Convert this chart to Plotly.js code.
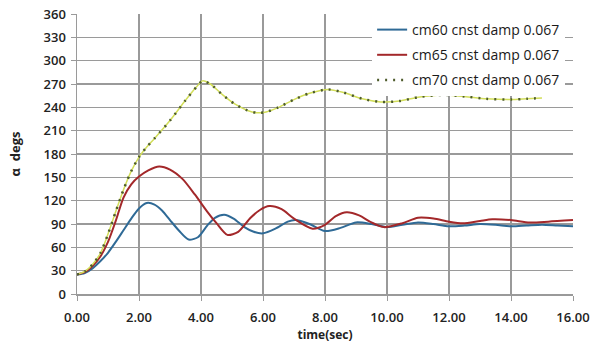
<!DOCTYPE html>
<html>
<head>
<meta charset="utf-8">
<script src="https://cdn.plot.ly/plotly-3.0.1.min.js"></script>
<style>html,body{margin:0;padding:0;background:#fff;}#chart{width:604px;height:347px;}</style>
</head>
<body>
<div id="chart"></div>
<script>
var names = ["cm60 cnst damp 0.067", "cm65 cnst damp 0.067", "cm70 cnst damp 0.067"];
var xTicks = [0, 2, 4, 6, 8, 10, 12, 14, 16];
var xTickLabels = ["0.00", "2.00", "4.00", "6.00", "8.00", "10.00", "12.00", "14.00", "16.00"];
var yTicks = [0, 30, 60, 90, 120, 150, 180, 210, 240, 270, 300, 330, 360];

var t60 = [0, 0.25, 0.5, 0.75, 1.0, 1.25, 1.5, 1.75, 2.0, 2.25, 2.5, 2.75, 3.0, 3.3, 3.6, 3.9, 4.2, 4.45, 4.75, 5.05, 5.4, 5.7, 6.0, 6.4, 6.8, 7.05, 7.5, 8.0, 8.5, 9.0, 9.5, 10.0, 10.5, 11.0, 11.5, 12.0, 12.5, 13.0, 13.5, 14.0, 14.5, 15.0, 15.5, 16.0];
var v60 = [25, 27, 33, 42, 53, 67, 82, 97, 110, 117, 115, 107, 95, 81, 70, 73, 88, 98, 102, 97, 86, 80, 78, 84, 93, 95, 90, 81, 85, 92, 90, 86, 89, 92, 90, 87, 88, 90, 89, 87, 88, 89, 88, 87];

var t65 = [0, 0.25, 0.5, 0.75, 1.0, 1.25, 1.5, 1.75, 2.0, 2.3, 2.65, 3.0, 3.4, 3.8, 4.2, 4.5, 4.85, 5.2, 5.6, 5.9, 6.2, 6.6, 7.0, 7.6, 8.0, 8.35, 8.7, 9.1, 9.5, 9.9, 10.5, 11.0, 11.5, 12.0, 12.45, 13.0, 13.4, 14.0, 14.6, 15.2, 16.0];
var v65 = [25, 28, 36, 48, 67, 94, 124, 141, 151, 159, 164, 160, 148, 128, 106, 91, 76, 80, 98, 108, 113, 109, 97, 84, 89, 100, 105, 101, 92, 86, 91, 98, 97, 93, 91, 94, 96, 95, 92, 93, 95];

var t70 = [0, 0.25, 0.5, 0.75, 1.0, 1.25, 1.5, 1.75, 2.0, 2.25, 2.5, 3.0, 3.5, 3.85, 4.05, 4.3, 4.7, 5.1, 5.5, 5.8, 6.1, 6.5, 7.0, 7.5, 8.1, 8.6, 9.2, 9.8, 10.4, 11.0, 11.8, 12.5, 13.2, 14.0, 14.5, 15.0];
var v70 = [25, 29, 38, 52, 77, 106, 134, 158, 176, 189, 200, 223, 249, 266, 274, 270, 256, 244, 236, 233, 234, 240, 250, 258, 263, 259, 251, 247, 248, 253, 256, 254, 251, 250, 251, 252];

var sm = 0.75;
var traces = [
  {x: t60, y: v60, name: names[0], legendgroup: "a", mode: "lines", line: {color: "#2f6a96", width: 2, shape: "spline", smoothing: sm}},
  {x: t65, y: v65, name: names[1], legendgroup: "b", mode: "lines", line: {color: "#a3282a", width: 2, shape: "spline", smoothing: sm}},
  {x: t70, y: v70, name: names[2], mode: "lines", legendgroup: "c", showlegend: false, line: {color: "#d2de5a", width: 1.5, shape: "spline", smoothing: sm}},
  {x: t70, y: v70, name: names[2], mode: "lines", legendgroup: "c", line: {color: "#4e5c2c", width: 2.5, dash: "2px,6px", shape: "spline", smoothing: sm}}
];

var tickFont = {size: 13, color: "#222", weight: 600};
var layout = {
  width: 604, height: 347,
  margin: {l: 77, r: 31, t: 14, b: 53},
  paper_bgcolor: "#fff", plot_bgcolor: "#fff",
  font: {family: "Open Sans, sans-serif", size: 12, color: "#222"},
  showlegend: true,
  legend: {x: 0.595, y: 1.0, xanchor: "left", yanchor: "top", bgcolor: "#fff", borderwidth: 0,
           font: {size: 14, color: "#1a1a1a", weight: 500}, traceorder: "grouped", tracegroupgap: 4, itemwidth: 30},
  xaxis: {range: [0, 16], tickvals: xTicks, ticktext: xTickLabels, showgrid: true, gridcolor: "#9a9a9a", gridwidth: 1.5,
          zeroline: false, showline: true, linecolor: "#9a9a9a", linewidth: 1.5, ticks: "outside", ticklen: 5, tickcolor: "#9a9a9a",
          tickfont: tickFont, ticklabelstandoff: 6,
          title: {text: "<b>time(sec)</b>", font: {size: 12, color: "#222"}, standoff: 5}},
  yaxis: {range: [0, 360], tickvals: yTicks, showgrid: true, gridcolor: "#9a9a9a", gridwidth: 1.5,
          zeroline: false, showline: true, linecolor: "#9a9a9a", linewidth: 1.5, ticks: "outside", ticklen: 5, tickcolor: "#9a9a9a",
          tickfont: tickFont, ticklabelstandoff: 2,
          title: {text: "<b>α  degs</b>", font: {size: 13, color: "#222"}, standoff: 20}}
};

Plotly.newPlot("chart", traces, layout, {displayModeBar: false, staticPlot: true});
</script>
</body>
</html>
